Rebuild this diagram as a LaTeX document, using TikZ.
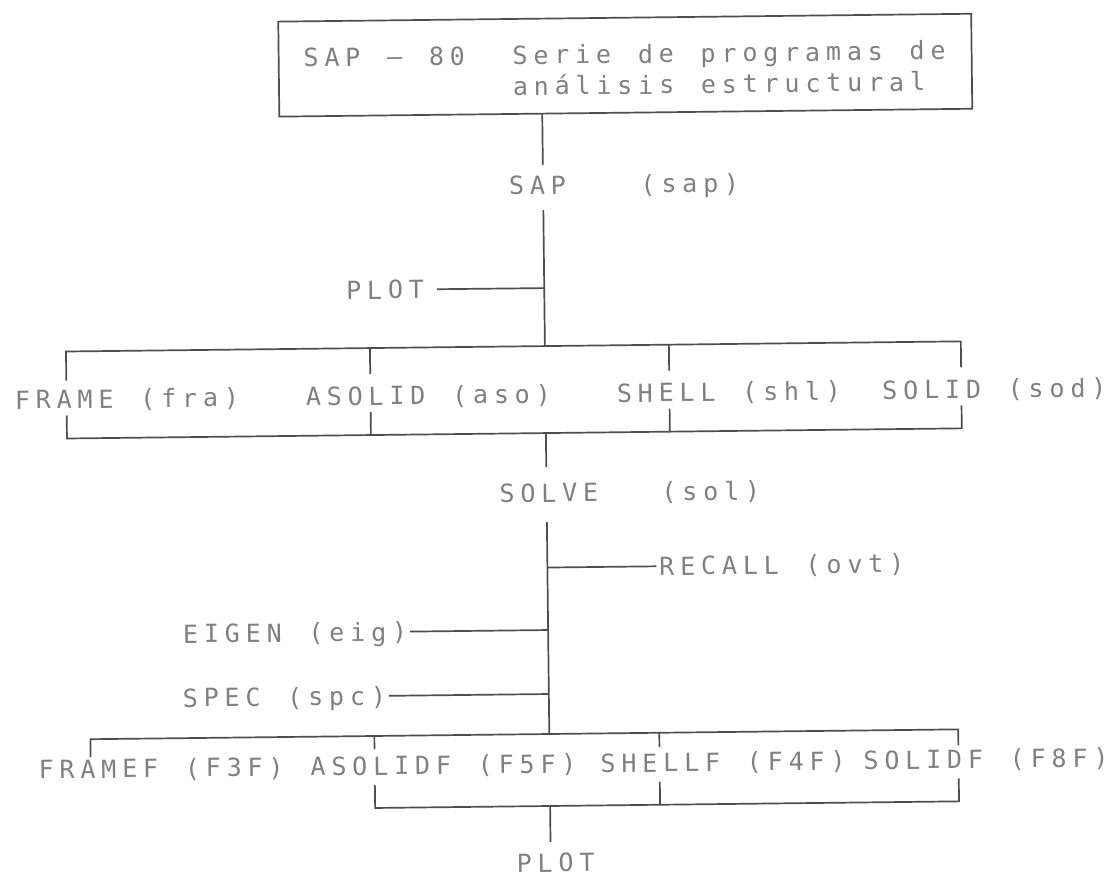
\documentclass[tikz,border=0pt]{standalone}
\usepackage{fontspec}
\newfontfamily\dvmono{DejaVu Sans Mono}
\ExplSyntaxOn
\NewDocumentCommand\mono{m}{\tl_map_inline:nn{#1}{\makebox[20.9pt][c]{##1}}}
\ExplSyntaxOff
\definecolor{linegray}{HTML}{4D4D4D}
\definecolor{txtgray}{HTML}{808080}
\tikzset{
  conn/.style={draw=linegray, line width=1.7pt},
  lbl/.style={inner sep=0pt, outer sep=0pt, text=txtgray, font=\dvmono\fontsize{25}{30}\selectfont, anchor=base west, transform shape},
  framebox/.style={draw=linegray, line width=1.7pt, inner sep=0pt, outer sep=0pt, anchor=north west, transform shape}
}
\begin{document}
\begin{tikzpicture}[x=1pt,y=-1pt]
\useasboundingbox (0,0) rectangle (1111,877);
\fill[white] (0,0) rectangle (1111,877);
\begin{scope}[rotate around={0.65:(555,440)}]
% title box
\node[framebox, minimum width=693pt, minimum height=95pt] (title) at (283,18.5) {};
\node[lbl] (tl1) at (305,64) {\mono{SAP~–~80~~Serie~de~programas~de}};
\node[lbl] (tl2) at (305,95) {\mono{~~~~~~~~~~análisis~estructural}};
% SAP
\node[lbl] (sap) at (509,194) {\mono{SAP}};
\node[lbl] (sapc) at (640.5,194) {\mono{(sap)}};
\coordinate (a0) at (546,113.5);
\coordinate (a1) at (546,165);
\coordinate (a2) at (546,210);
\coordinate (plotJ) at (546,288);
\coordinate (ub) at (546,346);
\node[lbl] (plotA) at (345,297) {\mono{PLOT}};
\draw[conn] (a0) -- (a1);
\draw[conn] (a2) -- (ub);
\draw[conn, shorten <=10pt] (plotA.east) -- (plotJ);
% upper bus of first group
\coordinate (u1) at (67,346);
\coordinate (u2) at (962,346);
\coordinate (u1d) at (67,375);
\coordinate (u2d) at (962,372);
\coordinate (u3) at (371,346);
\coordinate (u3d) at (371,372);
\coordinate (u4) at (670,346);
\coordinate (u4d) at (670,372);
\draw[conn] (u1d) -- (u1) -- (u2) -- (u2d);
\draw[conn] (u3) -- (u3d);
\draw[conn] (u4) -- (u4d);
\node[lbl] (fra) at (12.5,403) {\mono{FRAME~(fra)}};
\node[lbl] (aso) at (303.5,403) {\mono{ASOLID~(aso)}};
\node[lbl] (shl) at (614.5,403) {\mono{SHELL~(shl)}};
\node[lbl] (sod) at (880,403) {\mono{SOLID~(sod)}};
% lower bus of first group
\coordinate (v1) at (67,433);
\coordinate (v2) at (962,433);
\coordinate (v1u) at (67,410);
\coordinate (v2u) at (962,410);
\coordinate (v3) at (371,433);
\coordinate (v3u) at (371,410);
\coordinate (v4) at (670,433);
\coordinate (v4u) at (670,410);
\draw[conn] (v1u) -- (v1) -- (v2) -- (v2u);
\draw[conn] (v3) -- (v3u);
\draw[conn] (v4) -- (v4u);
% SOLVE
\coordinate (b0) at (546,433);
\coordinate (b1) at (546,467);
\node[lbl] (solve) at (496,502) {\mono{SOLVE}};
\node[lbl] (solc) at (658,502) {\mono{(sol)}};
\coordinate (c0) at (546,522);
\coordinate (cb) at (546,734);
\draw[conn] (b0) -- (b1);
\draw[conn] (c0) -- (cb);
% side branches
\coordinate (recJ) at (546,567.5);
\coordinate (eigJ) at (546,630);
\coordinate (spcJ) at (546,694);
\node[lbl] (rec) at (655,576.5) {\mono{RECALL~(ovt)}};
\node[lbl] (eig) at (178,639) {\mono{EIGEN~(eig)}};
\node[lbl] (spc) at (177,703) {\mono{SPEC~(spc)}};
\draw[conn] (recJ) -- (recJ -| rec.west);
\draw[conn] (eigJ) -- (eigJ -| eig.east);
\draw[conn] (spcJ) -- (spcJ -| spc.east);
% upper bus of second group
\coordinate (w1) at (87,734);
\coordinate (w2) at (955,734);
\coordinate (w1d) at (87,752);
\coordinate (w2d) at (955,750);
\coordinate (w3) at (371,734);
\coordinate (w3d) at (371,747);
\coordinate (w4) at (656,734);
\coordinate (w4d) at (656,748);
\draw[conn] (w1d) -- (w1) -- (w2) -- (w2d);
\draw[conn] (w3) -- (w3d);
\draw[conn] (w4) -- (w4d);
\node[lbl] (f3f) at (32,773) {\mono{FRAMEF~(F3F)}};
\node[lbl] (f5f) at (304,773) {\mono{ASOLIDF~(F5F)}};
\node[lbl] (f4f) at (594,773) {\mono{SHELLF~(F4F)}};
\node[lbl] (f8f) at (857,773) {\mono{SOLIDF~(F8F)}};
% lower bus of second group
\coordinate (x3) at (371,806);
\coordinate (x2) at (955,806);
\coordinate (x3u) at (371,783);
\coordinate (x2u) at (955,783);
\coordinate (x4) at (656,806);
\coordinate (x4u) at (656,783);
\draw[conn] (x3u) -- (x3) -- (x2) -- (x2u);
\draw[conn] (x4) -- (x4u);
\coordinate (d0) at (546,806);
\coordinate (d1) at (546,842);
\draw[conn] (d0) -- (d1);
\node[lbl] (plotB) at (509,872) {\mono{PLOT}};
\end{scope}
\end{tikzpicture}
\end{document}
